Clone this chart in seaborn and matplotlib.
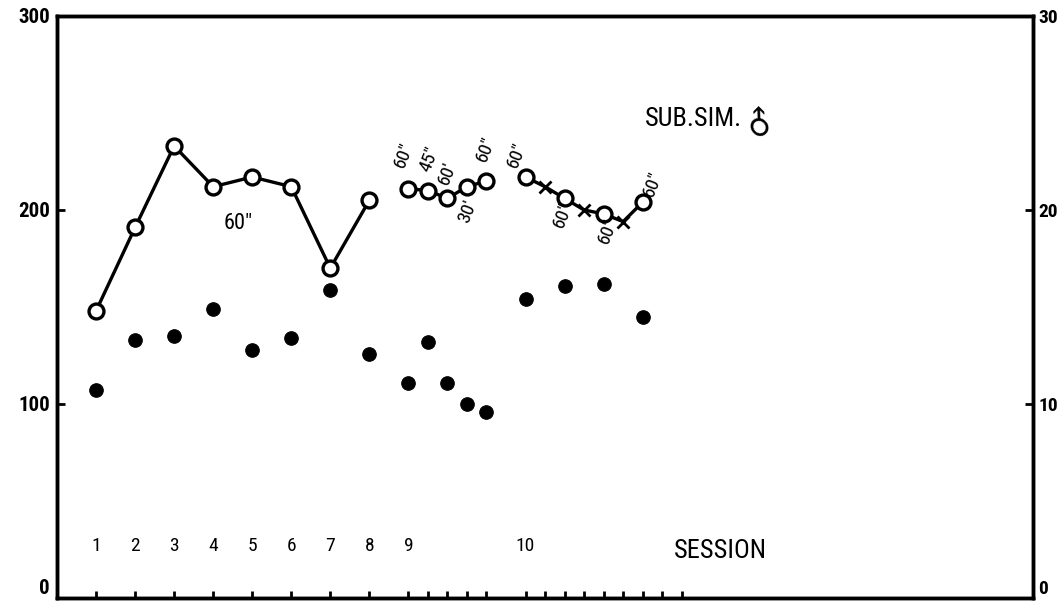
import numpy as np
import pandas as pd
import matplotlib
matplotlib.use('Agg')
import matplotlib.pyplot as plt
import seaborn as sns

sns.set_style('white')
plt.rcParams['font.family'] = ['Roboto Condensed', 'DejaVu Sans']
plt.rcParams['font.stretch'] = 'condensed'
plt.rcParams['text.color'] = 'black'
plt.rcParams['xtick.color'] = 'black'
plt.rcParams['ytick.color'] = 'black'

# ── DATA ──────────────────────────────────────────────
# x position on the session axis (sessions 9 and 10 are split into sub-trials)
sess_x = [1, 2, 3, 4, 5, 6, 7, 8]
sess_open = [148, 191, 233, 212, 217, 212, 170, 205]          # left axis (0-300)
s9_x = [9, 9.5, 10, 10.5, 11]
s9_open = [211, 210, 206, 212, 215]
s10_x = [12, 13, 14, 15]
s10_open = [217, 206, 198, 204]
s10_cross_x = [12.5, 13.5, 14.5]
s10_cross = [212, 200, 194]

# filled dots, right axis (0-30)
dot_x = [1, 2, 3, 4, 5, 6, 7, 8, 9, 9.5, 10, 10.5, 11, 12, 13, 14, 15]
dot_y = [10.7, 13.3, 13.5, 14.9, 12.8, 13.4, 15.9, 12.6,
         11.1, 13.2, 11.1, 10.0, 9.6, 15.4, 16.1, 16.2, 14.5]

tick_major = [1, 2, 3, 4, 5, 6, 7, 8, 9, 12]
tick_labels = ['1', '2', '3', '4', '5', '6', '7', '8', '9', '10']
tick_minor = [9.5, 10, 10.5, 11, 12.5, 13, 13.5, 14, 14.5, 15, 15.5, 16]

# trial-length annotations: (text, x, y, rotation)
notes = [('60″', 8.89, 228, 68), ('45″', 9.55, 226, 68), ('60′', 10.0, 219, 68),
         ('30′', 10.53, 199, 68), ('60″', 10.99, 231, 68),
         ('60″', 11.78, 228, 68), ('60″', 12.96, 197, 68),
         ('60″', 14.11, 189, 68), ('60″', 15.25, 213, 68)]

# line table: circles and crosses joined within each block
line_df = pd.concat([
    pd.DataFrame({'x': sess_x, 'y': sess_open, 'seg': 'a'}),
    pd.DataFrame({'x': s9_x, 'y': s9_open, 'seg': 'b'}),
    pd.DataFrame({'x': s10_x + s10_cross_x, 'y': s10_open + s10_cross, 'seg': 'c'}),
]).sort_values(['seg', 'x'])
open_df = pd.DataFrame({'x': sess_x + s9_x + s10_x, 'y': sess_open + s9_open + s10_open})
cross_df = pd.DataFrame({'x': s10_cross_x, 'y': s10_cross})
dot_df = pd.DataFrame({'x': dot_x, 'y': dot_y})

# ── PLOT ──────────────────────────────────────────────
fig = plt.figure(figsize=(10.64, 6.03), dpi=100)
ax = fig.add_axes([0.0536, 0.0083, 0.9173, 0.9652])

sns.lineplot(data=line_df, x='x', y='y', units='seg', estimator=None,
             color='black', linewidth=2.4, sort=False, ax=ax, zorder=2)
sns.scatterplot(data=open_df, x='x', y='y', marker='o', s=115, facecolor='white',
                edgecolor='black', linewidth=2.4, ax=ax, zorder=3)
sns.scatterplot(data=cross_df, x='x', y='y', marker='x', s=75, color='black',
                linewidth=2, ax=ax, zorder=3)

ax2 = ax.twinx()
sns.scatterplot(data=dot_df, x='x', y='y', marker='o', s=95, color='black',
                edgecolor='black', ax=ax2, zorder=3)

ax.set_xlim(0, 25)
ax.set_ylim(0, 300)
ax2.set_ylim(0, 30)

for a in (ax, ax2):
    for sp in a.spines.values():
        sp.set_linewidth(2.5)
        sp.set_color('black')
    a.set_xlabel('')
    a.set_ylabel('')

ax.set_xticks(tick_major)
ax.set_xticklabels(tick_labels)
ax.set_xticks(tick_minor, minor=True)
ax.tick_params(axis='x', which='both', direction='in', length=5, width=2,
               pad=-44, labelsize=14, bottom=True)
ax.set_yticks([0, 100, 200, 300])
ax.set_yticklabels(['0', '100', '200', '300'])
ax.tick_params(axis='y', direction='in', length=6, width=2, labelsize=15, pad=5, left=True)
ax2.set_yticks([0, 10, 20, 30])
ax2.set_yticklabels(['0', '10', '20', '30'])
ax2.tick_params(axis='y', direction='in', length=6, width=2, labelsize=14, pad=4, right=True)
for a in (ax, ax2):
    for lab in a.get_yticklabels():
        lab.set_fontweight('bold')
    a.get_yticklabels()[0].set_verticalalignment('bottom')

for txt, x, y, rot in notes:
    ax.text(x, y, txt, rotation=rot, ha='center', va='center', fontsize=14)
ax.text(4.64, 193, '60″', ha='center', va='center', fontsize=16)

ax.text(15.06, 247, 'SUB.SIM.', ha='left', va='center', fontsize=19)
ax.text(18.0, 245, '♂', ha='center', va='center', fontsize=24, rotation=45,
        family=['DejaVu Sans'])
ax.text(16.98, 24, 'SESSION', ha='center', va='center', fontsize=19)

fig.savefig('out.png', dpi=100)
